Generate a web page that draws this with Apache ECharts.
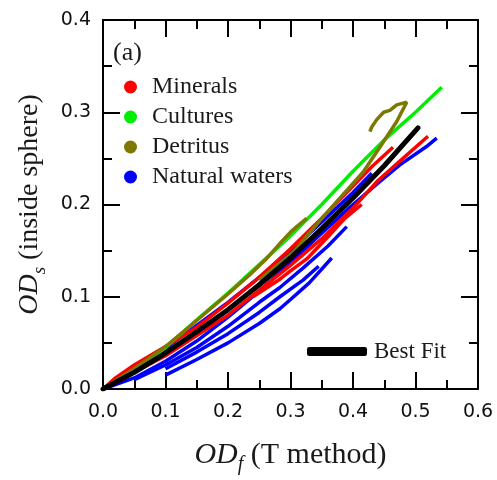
<!DOCTYPE html>
<html><head><meta charset="utf-8">
<script src="https://cdn.jsdelivr.net/npm/echarts/dist/echarts.min.js"></script>
<style>html,body{margin:0;padding:0;background:#fff}#c{width:497px;height:480px}</style>
</head><body><div id="c"></div>
<script>
// ---- data ----
const categories = ['Minerals', 'Cultures', 'Detritus', 'Natural waters'];
const xTickLabels = ['0.0', '0.1', '0.2', '0.3', '0.4', '0.5', '0.6'];
const yTickLabels = ['0.0', '0.1', '0.2', '0.3', '0.4'];

const bestFit = [[0,0],[0.05,0.018],[0.1,0.039],[0.15,0.062],[0.2,0.086],[0.25,0.113],[0.3,0.142],[0.35,0.174],[0.4,0.207],[0.45,0.242],[0.504,0.283]];

const mineralsA = [[0,0],[0.02,0.012],[0.05,0.026],[0.1,0.046],[0.15,0.067],[0.2,0.093],[0.25,0.121],[0.3,0.152],[0.35,0.185],[0.4,0.22],[0.43,0.241],[0.464,0.262]];
const mineralsB = [[0,0],[0.1,0.036],[0.2,0.08],[0.3,0.134],[0.35,0.163],[0.4,0.196],[0.44,0.226],[0.48,0.25],[0.52,0.274]];
const mineralsC = [[0.24,0.1],[0.283,0.119],[0.3,0.128],[0.326,0.141],[0.36,0.165],[0.387,0.185],[0.414,0.2]];

const culturesA = [[0,0],[0.05,0.02],[0.1,0.045],[0.15,0.075],[0.2,0.104],[0.25,0.135],[0.3,0.166],[0.35,0.2],[0.4,0.236],[0.45,0.27],[0.5,0.3],[0.542,0.327]];

const detritusA = [[0,0],[0.05,0.022],[0.1,0.046],[0.139,0.068],[0.2,0.103],[0.235,0.124],[0.26,0.14],[0.286,0.16],[0.3,0.17],[0.31,0.176],[0.326,0.185]];
const detritusB = [[0.25,0.118],[0.304,0.148],[0.35,0.185],[0.395,0.219],[0.416,0.235],[0.443,0.262],[0.47,0.29],[0.486,0.311],[0.483,0.313],[0.47,0.308],[0.459,0.302],[0.449,0.3],[0.438,0.292],[0.43,0.284],[0.427,0.279]];

const watersA = [[0,0],[0.05,0.012],[0.1,0.03],[0.15,0.052],[0.2,0.078],[0.25,0.106],[0.3,0.137],[0.342,0.164],[0.368,0.18],[0.395,0.197],[0.438,0.222],[0.475,0.243],[0.52,0.264],[0.534,0.272]];
const watersB = [[0,0],[0.05,0.021],[0.1,0.044],[0.15,0.069],[0.2,0.094],[0.25,0.121],[0.3,0.15],[0.35,0.181],[0.4,0.213],[0.43,0.234]];
const watersC = [[0.05,0.01],[0.1,0.026],[0.15,0.045],[0.2,0.068],[0.25,0.094],[0.283,0.11],[0.32,0.131],[0.36,0.155],[0.39,0.176]];
const watersD = [[0.1,0.022],[0.15,0.04],[0.2,0.06],[0.25,0.083],[0.283,0.1],[0.32,0.118],[0.345,0.133]];
const watersE = [[0.1,0.015],[0.15,0.032],[0.2,0.05],[0.25,0.071],[0.283,0.087],[0.3,0.097],[0.33,0.115],[0.366,0.142]];

// ---- styling ----
const SERIF = 'Liberation Serif';
const SANS = 'DejaVu Sans';
const colors = {'Minerals':'#ff0000','Cultures':'#00ee00','Detritus':'#7d7800','Natural waters':'#0000ff'};
const groups = [
  {name:'Natural waters', strands:[watersE, watersD, watersC, watersA, watersB]},
  {name:'Minerals', strands:[mineralsC, mineralsB, mineralsA]},
  {name:'Cultures', strands:[culturesA]},
  {name:'Detritus', strands:[detritusA, detritusB]}
];

const series = [];
groups.forEach(g => {
  g.strands.forEach(d => {
    series.push({
      type:'line', name:g.name, data:d, showSymbol:false, symbol:'circle', symbolSize:13,
      itemStyle:{color:colors[g.name]},
      lineStyle:{color:colors[g.name], width:3.5}, silent:true, animation:false
    });
  });
});
series.push({type:'line', name:'Best Fit', data:bestFit, showSymbol:false, itemStyle:{color:'#000'},
  lineStyle:{color:'#000', width:5, cap:'round'}, silent:true, animation:false});

const tickCommon = {
  axisLine:{show:true, onZero:false, lineStyle:{color:'#000', width:2}},
  axisTick:{show:true, inside:true, length:17, lineStyle:{color:'#000', width:2}},
  minorTick:{show:true, splitNumber:2, length:9, lineStyle:{color:'#000', width:2}},
  splitLine:{show:false}
};

const chart = echarts.init(document.getElementById('c'), null, {renderer:'canvas'});
chart.setOption({
  animation:false,
  backgroundColor:'#fff',
  title:{text:'(a)', left:108, top:35, textStyle:{fontFamily:SERIF, fontSize:26, fontWeight:'normal', color:'#1a1a1a'}},
  grid:{left:103, right:19, top:20, bottom:85},
  legend:[
    {data:categories.map(n=>({name:n, icon:'circle'})), orient:'vertical', left:119, top:70, itemWidth:13, itemHeight:13, itemGap:6,
     selectedMode:false, textStyle:{fontFamily:SERIF, fontSize:24, color:'#1a1a1a', padding:[0,0,0,10]}},
    {data:[{name:'Best Fit', icon:'roundRect'}], left:302, top:335, itemWidth:60, itemHeight:9, selectedMode:false,
     textStyle:{fontFamily:SERIF, fontSize:23, color:'#1a1a1a', padding:[0,0,0,2]}}
  ],
  xAxis:[
    Object.assign({type:'value', position:'bottom', min:0, max:0.6, interval:0.1,
      axisLabel:{margin:14, fontFamily:SANS, fontSize:19, color:'#111', formatter:(v)=>xTickLabels[Math.round(v*10)]},
      name:'{i|OD}{s|f} (T method)', nameLocation:'middle', nameGap:46,
      nameTextStyle:{fontFamily:SERIF, fontSize:30, color:'#1a1a1a', lineHeight:40, verticalAlign:'top',
        rich:{i:{fontFamily:SERIF, fontStyle:'italic', fontSize:30, lineHeight:32},
              s:{fontFamily:SERIF, fontStyle:'italic', fontSize:20, lineHeight:40, verticalAlign:'bottom'}}}
    }, tickCommon),
    Object.assign({type:'value', position:'top', min:0, max:0.6, interval:0.1, axisLabel:{show:false}}, tickCommon)
  ],
  yAxis:[
    Object.assign({type:'value', position:'left', min:0, max:0.4, interval:0.1,
      axisLabel:{margin:12, fontFamily:SANS, fontSize:19, color:'#111', formatter:(v)=>yTickLabels[Math.round(v*10)]},
      name:'{i|OD}{s|s} (inside sphere)', nameLocation:'middle', nameGap:54, nameRotate:90,
      nameTextStyle:{fontFamily:SERIF, fontSize:28, color:'#1a1a1a', lineHeight:38,
        rich:{i:{fontFamily:SERIF, fontStyle:'italic', fontSize:28, lineHeight:30},
              s:{fontFamily:SERIF, fontStyle:'italic', fontSize:19, lineHeight:38, verticalAlign:'bottom'}}}
    }, tickCommon),
    Object.assign({type:'value', position:'right', min:0, max:0.4, interval:0.1, axisLabel:{show:false}}, tickCommon)
  ],
  series:series
});
</script></body></html>
